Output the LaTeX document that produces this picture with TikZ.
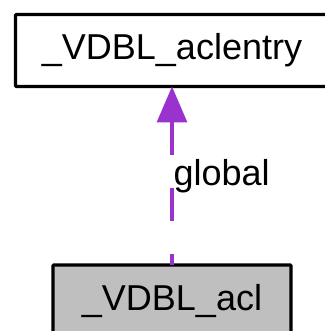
\documentclass[tikz,border=0pt]{standalone}
\usepackage{fontspec}
\setmainfont{Liberation Sans}
\usetikzlibrary{positioning,
arrows.meta}
\definecolor{orchid}{HTML}{9A32CD}
\definecolor{grey75}{HTML}{BFBFBF}
\tikzstyle{Box} = [
draw,
line width=3.3pt,
rounded corners=1pt,
inner sep=0pt,
outer sep=0pt,
minimum height=72pt,
text height=26pt,
text depth=7pt,
font=\fontsize{36}{43}\selectfont
]
\tikzstyle{Arrow} = [
orchid,
line width=3.3pt,
dash pattern=on 33pt off 33pt,
arrows={Triangle[length=36pt,width=30pt]-}
]

\begin{document}
\begin{tikzpicture}[x=1pt, y=1pt]
            \useasboundingbox (0,0) rectangle (324,331);
            \node [Box, minimum width=313pt] (1) at (172,280.5) {\_VDBL\_aclentry};
            \node [Box, fill=grey75, minimum width=238pt, below=178.5pt of 1] (2) {\_VDBL\_acl};

            \draw[Arrow] (1) -- node[pos=0.552, anchor=base west, inner sep=0pt, text=black, font=\fontsize{36}{43}\selectfont] {global} (2);
        \end{tikzpicture}
\end{document}
